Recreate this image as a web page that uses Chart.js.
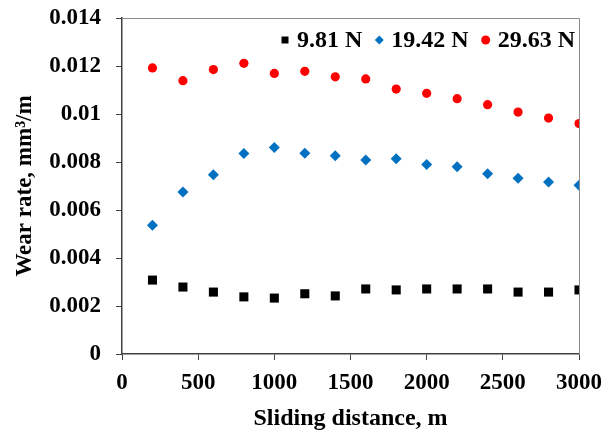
<!DOCTYPE html>
<html>
<head>
<meta charset="utf-8">
<script src="https://cdn.jsdelivr.net/npm/chart.js@4"></script>
<style>
  html, body { margin: 0; padding: 0; background: #fff; }
  #wrap { width: 604px; height: 436px; }
</style>
</head>
<body>
<div id="wrap"><canvas id="wearChart" width="604" height="436"></canvas></div>
<script>
// sliding distance (m)
const distances = [200, 400, 600, 800, 1000, 1200, 1400, 1600, 1800, 2000, 2200, 2400, 2600, 2800, 3000];

// wear rate (mm3/m) for each load
const load981 = [0.00308, 0.00279, 0.00258, 0.00238, 0.00233, 0.00251, 0.00242, 0.00271, 0.00267, 0.00271, 0.00271, 0.00271, 0.00258, 0.00258, 0.00267];
const load1942 = [0.00536, 0.00675, 0.00747, 0.00835, 0.0086, 0.00836, 0.00826, 0.00808, 0.00814, 0.0079, 0.0078, 0.00751, 0.00732, 0.00717, 0.00703];
const load2963 = [0.01192, 0.01139, 0.01185, 0.01211, 0.01169, 0.01178, 0.01155, 0.01146, 0.01104, 0.01086, 0.01064, 0.01039, 0.01008, 0.00983, 0.0096];

const seriesNames = ['9.81 N', '19.42 N', '29.63 N'];

const FONT = '"Liberation Serif", "Times New Roman", serif';

function toPoints(ys) {
    return distances.map((x, i) => ({ x: x, y: ys[i] }));
}

// light frame on top/right of the plot area, like the Excel plot border
const frame = {
    id: 'frame',
    beforeDatasetsDraw(chart) {
        const a = chart.chartArea;
        const ctx = chart.ctx;
        ctx.save();
        ctx.strokeStyle = '#8c8c8c';
        ctx.lineWidth = 1;
        ctx.beginPath();
        ctx.moveTo(a.left, a.top + 0.5);
        ctx.lineTo(a.right + 0.5, a.top + 0.5);
        ctx.lineTo(a.right + 0.5, a.bottom);
        ctx.stroke();
        ctx.restore();
    }
};

// legend drawn inside the plot area, top right, in one row
const innerLegend = {
    id: 'innerLegend',
    afterDraw(chart) {
        const ctx = chart.ctx;
        const a = chart.chartArea;
        const sets = chart.data.datasets;
        const y = a.top + 22;
        ctx.save();
        ctx.font = 'bold 24px ' + FONT;
        ctx.textBaseline = 'middle';
        ctx.fillStyle = '#000';
        // lay out from the right edge
        let x = a.right - 4;
        const items = [];
        for (let i = sets.length - 1; i >= 0; i--) {
            const w = ctx.measureText(sets[i].label).width;
            const textX = x - w;
            items.push({ ds: sets[i], textX: textX, markX: textX - 12 });
            x = textX - 12 - 17;
        }
        items.forEach(it => {
            ctx.fillStyle = '#000';
            ctx.fillText(it.ds.label, it.textX, y + 1);
            ctx.fillStyle = it.ds.backgroundColor;
            ctx.beginPath();
            if (it.ds.pointStyle === 'rect') {
                ctx.rect(it.markX - 3.5, y - 3.5, 7, 7);
            } else if (it.ds.pointStyle === 'rectRot') {
                ctx.moveTo(it.markX - 4.5, y);
                ctx.lineTo(it.markX, y - 4.5);
                ctx.lineTo(it.markX + 4.5, y);
                ctx.lineTo(it.markX, y + 4.5);
                ctx.closePath();
            } else {
                ctx.arc(it.markX, y, 4.5, 0, Math.PI * 2);
            }
            ctx.fill();
        });
        ctx.restore();
    }
};

window.onload = function() {
    const ctx = document.getElementById('wearChart').getContext('2d');
    new Chart(ctx, {
        type: 'scatter',
        data: {
            datasets: [
                { label: seriesNames[0], data: toPoints(load981), pointStyle: 'rect', pointRadius: 6.4,
                  backgroundColor: '#000000', borderColor: '#000000', borderWidth: 0 },
                { label: seriesNames[1], data: toPoints(load1942), pointStyle: 'rectRot', pointRadius: 5.5,
                  backgroundColor: '#0070C0', borderColor: '#0070C0', borderWidth: 0 },
                { label: seriesNames[2], data: toPoints(load2963), pointStyle: 'circle', pointRadius: 4.6,
                  backgroundColor: '#FF0000', borderColor: '#FF0000', borderWidth: 0 }
            ]
        },
        options: {
            responsive: false,
            animation: false,
            layout: { padding: { top: 18, right: 25, left: 0, bottom: 0 } },
            plugins: {
                tooltip: { enabled: false },
                legend: { display: false }
            },
            scales: {
                x: {
                    type: 'linear',
                    min: 0,
                    max: 3000,
                    afterFit(scale) {
                        scale.height = 82;
                        scale.paddingLeft = 0;
                        scale.paddingRight = 0;
                    },
                    ticks: {
                        stepSize: 500,
                        color: '#000',
                        padding: 9,
                        maxRotation: 0,
                        font: { family: FONT, size: 23, weight: 'bold' },
                        callback: v => String(v)
                    },
                    grid: { drawOnChartArea: false, tickLength: 6, color: '#404040' },
                    border: { color: '#404040', width: 1.5 },
                    title: {
                        display: true,
                        text: 'Sliding distance, m',
                        color: '#000',
                        padding: { top: 3, bottom: 3 },
                        font: { family: FONT, size: 24, weight: 'bold' }
                    }
                },
                y: {
                    min: 0,
                    max: 0.014,
                    afterFit(scale) {
                        scale.width = 122;
                        scale.paddingTop = 0;
                        scale.paddingBottom = 0;
                    },
                    ticks: {
                        stepSize: 0.002,
                        color: '#000',
                        padding: 15,
                        font: { family: FONT, size: 23, weight: 'bold' },
                        callback: v => String(+v.toFixed(3))
                    },
                    grid: { drawOnChartArea: false, tickLength: 6, color: '#404040' },
                    border: { color: '#404040', width: 1.5 },
                    title: {
                        display: true,
                        text: 'Wear rate, mm³/m',
                        color: '#000',
                        padding: { top: 11, bottom: 11 },
                        font: { family: FONT, size: 23, weight: 'bold' }
                    }
                }
            }
        },
        plugins: [frame, innerLegend]
    });
};
</script>
</body>
</html>
